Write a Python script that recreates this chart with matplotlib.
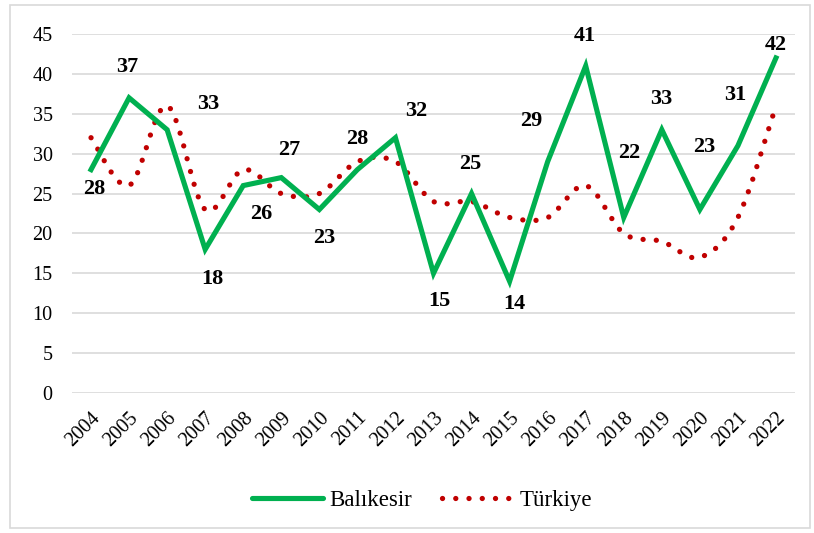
import numpy as np
import matplotlib.pyplot as plt
from matplotlib.path import Path
from matplotlib.patches import PathPatch, Rectangle
from matplotlib.lines import Line2D

plt.rcParams['font.family'] = ['Liberation Serif', 'DejaVu Serif']

years = [str(y) for y in range(2004, 2023)]
balikesir = [28, 37, 33, 18, 26, 27, 23, 28, 32, 15, 25, 14, 29, 41, 22, 33, 23, 31, 42]
turkiye = [32, 26, 36, 23, 28, 25, 25, 29, 29, 24, 24, 22, 22, 26, 20, 19, 17, 22, 36]

# label offsets in pixels (dx, dy), as placed in the original
label_off = [(3, -19), (-2, 31), (41, 26), (7, -30), (18, -28), (8, 28), (5, -28),
             (0, 31), (21, 27), (6, -28), (-1, 30), (5, -23), (-16, 41), (-1, 30),
             (5, 64), (-1, 31), (4, 63), (-3, 51), (0, 13)]

green = '#00B050'
red = '#C00000'
dots = (0, (0.01, 2.5))


def smooth_path(xs, ys):
    # excel-like smoothed line: catmull-rom as cubic bezier segments
    p = np.column_stack([xs, ys]).astype(float)
    ext = np.vstack([p[0], p, p[-1]])
    verts = [p[0]]
    codes = [Path.MOVETO]
    for i in range(len(p) - 1):
        p0, p1, p2, p3 = ext[i], ext[i + 1], ext[i + 2], ext[i + 3]
        verts += [p1 + (p2 - p0) / 6, p2 - (p3 - p1) / 6, p2]
        codes += [Path.CURVE4] * 3
    return Path(verts, codes)


fig = plt.figure(figsize=(8.14, 5.33), dpi=100)
ax = fig.add_axes([72 / 814, 1 - 393 / 533, 723 / 814, 359 / 533])

x = np.arange(len(years))

patch = PathPatch(smooth_path(x, turkiye), fill=False, edgecolor=red, lw=3.8,
                  linestyle=dots, capstyle='round', zorder=2)
ax.add_patch(patch)
ax.plot(x, balikesir, color=green, lw=3.7, solid_joinstyle='miter', zorder=3)

for i, v in enumerate(balikesir):
    ax.annotate(str(v), (x[i], v), xytext=label_off[i], textcoords='offset pixels',
                ha='center', va='center', fontsize=16, fontweight='bold', zorder=4)

ax.set_xlim(-0.5, len(years) - 0.5)
ax.set_ylim(0, 45)
ax.set_yticks(range(0, 46, 5))
ax.set_xticks(x)
ax.set_xticklabels(years, rotation=45, ha='right', rotation_mode='anchor')
ax.tick_params(axis='both', length=0, labelsize=14.5)
ax.tick_params(axis='y', pad=14)
ax.tick_params(axis='x', pad=11)
ax.grid(axis='y', color='#D9D9D9', lw=1.2)
ax.set_axisbelow(True)
for s in ax.spines.values():
    s.set_visible(False)

handles = [Line2D([], [], color=green, lw=3.7, solid_capstyle='round'),
           Line2D([], [], color=red, lw=3.8, linestyle=dots, dash_capstyle='round')]
fig.legend(handles, ['Balıkesir', 'Türkiye'], loc='center', bbox_to_anchor=(422 / 814, 1 - 500 / 533),
           ncol=2, frameon=False, fontsize=16.5, handlelength=3.1, columnspacing=1.3,
           handletextpad=0.3)

fig.patches.append(Rectangle((10 / 814, 5 / 533), 800 / 814, 523 / 533, transform=fig.transFigure,
                             fill=False, edgecolor='#D9D9D9', lw=1.2))

fig.savefig('out.png', dpi=100)
